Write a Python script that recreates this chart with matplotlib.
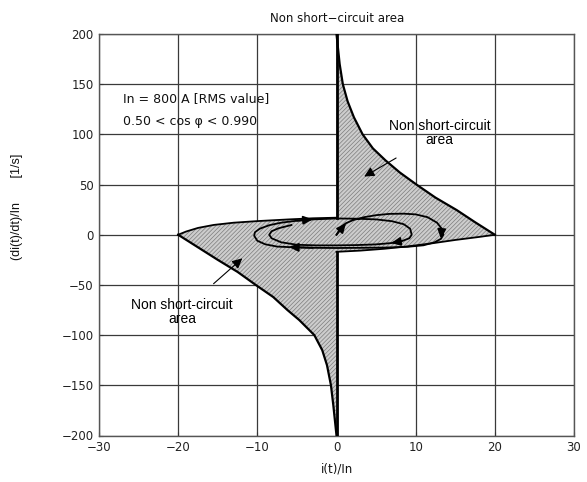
import matplotlib
matplotlib.use("Agg")
import matplotlib.pyplot as plt

# ---- data ----
# upper-right boundary of the non short-circuit area (x, y)
upper_bound_x = [0, 0.2, 0.4, 0.8, 1.4, 2.2, 3.3, 4.6, 6.2, 8.0, 10.1, 12.5, 15.2, 17.5, 20.0]
upper_bound_y = [200, 185, 170, 150, 133, 117, 100, 86, 74, 62, 50, 37, 24.5, 12.5, 0]
# lower edge of the right-hand region
right_edge_x = [20, 18, 15, 12, 9, 6, 3, 0]
right_edge_y = [0, -2.2, -5.2, -8.6, -11.6, -14, -15.8, -17]
# lower-left boundary
lower_bound_x = [-20.0, -17.5, -15.0, -12.5, -10.2, -8.0, -6.2, -4.7, -2.8, -1.8, -1.2, -0.7, -0.4, -0.2, 0]
lower_bound_y = [0, -12.5, -25, -37, -50, -62, -75, -85, -100, -115, -130, -150, -170, -185, -200]
# upper edge of the left-hand region
left_edge_x = [-20, -19, -17.5, -15.5, -13, -10, -6, -3, 0]
left_edge_y = [0, 3.2, 6.8, 9.8, 12.0, 13.6, 15.3, 16.4, 17]

# example current trajectory (spiral)
traj_x = [0, 0.3, 0.6, 1.2, 2.1, 3.5, 5.0, 6.7, 8.5, 10.0, 11.5, 12.7, 13.3, 13.5, 13.2, 12.4,
          11.0, 9.0, 6.0, 3.0, 0, -3.0, -6.0, -7.5, -9.0, -10.0, -10.4, -10.3, -9.7, -8.5,
          -7.0, -5.0, -3.0, 0, 2.5, 5.0, 7.0, 8.5, 9.3, 9.5, 9.2, 8.2, 6.9, 5.0, 2.5, 0,
          -2.5, -5.0, -7.0, -8.2, -8.5, -8.2, -7.3, -5.7]
traj_y = [0, 4, 8, 11.5, 14.6, 17.5, 19.5, 20.8, 21.0, 20.3, 17.5, 12.0, 6.0, 0, -4.0, -7.5,
          -10.5, -12.0, -12.8, -13.0, -13.2, -13.0, -12.3, -11.8, -9.5, -6.0, -1.0, 2.5, 6.0, 9.5,
          12.0, 14.0, 15.3, 16.2, 16.0, 15.3, 13.5, 10.5, 6.0, 0, -3.5, -6.5, -8.3, -9.6, -10.3, -10.6,
          -10.6, -10.0, -7.5, -3.5, 0, 3.5, 6.5, 9.7]
# (from, to) trajectory indices of the direction arrows
arrow_pairs = [(0, 3), (12, 14), (21, 22), (31, 32), (41, 42)]

x_ticks = [-30, -20, -10, 0, 10, 20, 30]
y_ticks = [-200, -150, -100, -50, 0, 50, 100, 150, 200]

title = "Non short\u2212circuit area"
x_label = "i(t)/In"
y_label = "(di(t)/dt)/In       [1/s]"
info_lines = ["In = 800 A [RMS value]", "0.50 < cos \u03c6 < 0.990"]
area_label = "Non short-circuit\narea"

# ---- figure ----
W, H = 587, 482
fig = plt.figure(figsize=(W / 100, H / 100), dpi=100)
ax = fig.add_axes([99 / W, 1 - 435.5 / H, (574 - 99) / W, (435.5 - 34) / H])

ax.set_xlim(-30, 30)
ax.set_ylim(-200, 200)
ax.set_xticks(x_ticks)
ax.set_yticks(y_ticks)
ax.grid(True, color="#3a3a3a", lw=0.9)
ax.set_axisbelow(True)
for s in ax.spines.values():
    s.set_color("#555555")
    s.set_linewidth(1.0)
ax.tick_params(direction="in", length=3, width=0.8, color="#333333",
               labelsize=8.5, labelcolor="#222222", pad=4)

# shaded regions
rx = [upper_bound_x[0]] + [right_edge_x[-1]] + right_edge_x[::-1][1:] + upper_bound_x[::-1][1:]
ry = [upper_bound_y[0]] + [right_edge_y[-1]] + right_edge_y[::-1][1:] + upper_bound_y[::-1][1:]
lx = [left_edge_x[-1]] + left_edge_x[::-1][1:] + lower_bound_x[1:] + [left_edge_x[-1]]
ly = [left_edge_y[-1]] + left_edge_y[::-1][1:] + lower_bound_y[1:] + [left_edge_y[-1]]

plt.rcParams["hatch.linewidth"] = 0.5
for px, py in [(rx, ry), (lx, ly)]:
    ax.fill(px, py, facecolor="#cdcdcd", edgecolor="#7c7c7c", hatch="////////", lw=0, zorder=2)

# outlines
ax.plot(upper_bound_x, upper_bound_y, color="k", lw=1.6, zorder=4)
ax.plot(lower_bound_x, lower_bound_y, color="k", lw=1.6, zorder=4)
ax.plot(right_edge_x, right_edge_y, color="k", lw=1.3, zorder=4)
ax.plot(left_edge_x, left_edge_y, color="k", lw=1.3, zorder=4)
ax.plot([0, 0], [upper_bound_y[0], left_edge_y[-1]], color="k", lw=2.0, zorder=4)
ax.plot([0, 0], [right_edge_y[-1], lower_bound_y[-1]], color="k", lw=2.0, zorder=4)

# trajectory
ax.plot(traj_x, traj_y, color="k", lw=1.3, zorder=5)
for a, b in arrow_pairs:
    ax.annotate("", xy=(traj_x[b], traj_y[b]), xytext=(traj_x[a], traj_y[a]),
                arrowprops=dict(arrowstyle="-|>,head_length=0.55,head_width=0.25",
                                mutation_scale=10, color="k", lw=1.3,
                                shrinkA=0, shrinkB=0), zorder=6)

# texts
ax.text(-27.0, 136, info_lines[0], fontsize=9, va="center", ha="left", color="#111111", zorder=7)
ax.text(-27.0, 112.5, info_lines[1], fontsize=9, va="center", ha="left", color="#111111", zorder=7)

ax.annotate(area_label, xy=(3.5, 58), xytext=(13.0, 101.5), fontsize=10,
            family="Liberation Sans", ha="center", va="center", linespacing=1.0,
            arrowprops=dict(arrowstyle="-|>,head_length=0.5,head_width=0.25",
                            mutation_scale=12, color="k", lw=0.8,
                            shrinkA=12, shrinkB=0), zorder=7)
ax.annotate(area_label, xy=(-11.9, -23.5), xytext=(-19.5, -76.5), fontsize=10,
            family="Liberation Sans", ha="center", va="center", linespacing=1.0,
            arrowprops=dict(arrowstyle="-|>,head_length=0.5,head_width=0.25",
                            mutation_scale=12, color="k", lw=0.8,
                            shrinkA=12, shrinkB=0), zorder=7)

fig.text(337 / W, 1 - 18 / H, title, fontsize=8.5, ha="center", va="center", color="#111111")
fig.text(337 / W, 1 - 469 / H, x_label, fontsize=8.5, ha="center", va="center", color="#111111")
fig.text(17 / W, 1 - 207 / H, y_label, fontsize=9, family="Liberation Sans",
         rotation=90, ha="center", va="center", color="#111111")

fig.savefig("out.png", dpi=100)
